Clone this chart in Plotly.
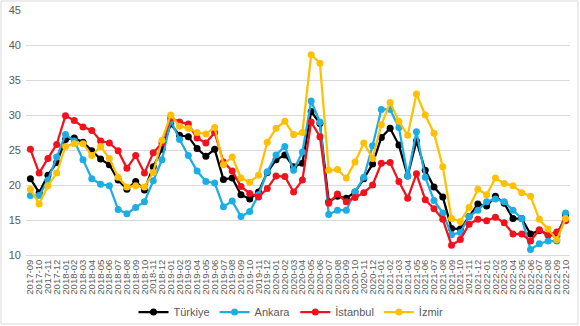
import plotly.graph_objects as go

months = [f"{y}-{m:02d}" for y in range(2017, 2023) for m in range(1, 13)]
months = months[months.index("2017-09"):months.index("2022-10") + 1]

turkiye = [20.9, 18.9, 21.4, 23.2, 26.5, 26.7, 26.1, 24.9, 23.7, 22.9, 20.7, 19.4, 20.5, 19.3, 22.6, 25.1,
           28.7, 27.1, 26.9, 25.2, 24.1, 25.1, 20.8, 21.0, 18.6, 18.0, 19.0, 21.8, 23.6, 24.3, 22.6, 23.1,
           30.5, 28.8, 17.6, 18.4, 18.1, 19.0, 20.9, 23.0, 26.8, 28.1, 25.7, 21.3, 26.3, 22.1, 19.7, 18.3,
           13.8, 13.7, 15.5, 17.3, 17.0, 18.4, 17.4, 15.2, 15.2, 13.0, 13.5, 12.9, 12.7, 15.7]
ankara = [18.5, 18.5, 20.7, 24.0, 27.2, 26.3, 23.6, 20.9, 20.1, 19.9, 16.5, 15.9, 16.8, 17.6, 20.6, 23.6,
          29.2, 26.5, 24.2, 22.0, 20.5, 20.3, 16.9, 17.7, 15.5, 16.2, 18.6, 21.9, 24.3, 25.5, 22.1, 24.7,
          32.0, 29.0, 15.8, 16.4, 16.4, 19.0, 21.1, 25.6, 30.8, 30.8, 28.2, 21.3, 27.6, 21.1, 17.8, 16.0,
          12.9, 13.2, 15.5, 16.4, 17.6, 18.0, 17.6, 16.4, 15.2, 10.8, 11.6, 12.0, 12.0, 16.0]
istanbul = [25.1, 21.7, 23.8, 25.8, 29.9, 29.2, 28.3, 27.8, 26.3, 26.0, 24.9, 22.4, 24.2, 21.7, 24.6, 26.0,
            29.6, 29.0, 28.7, 26.7, 26.0, 27.5, 23.3, 22.0, 19.8, 18.8, 18.3, 19.5, 21.3, 21.2, 19.0, 20.7,
            29.0, 26.9, 17.4, 18.7, 17.6, 18.2, 18.9, 20.0, 23.1, 23.2, 20.5, 18.1, 21.6, 17.9, 16.6, 15.1,
            11.4, 12.2, 14.4, 15.1, 14.9, 15.4, 14.6, 13.0, 13.0, 12.0, 13.6, 12.9, 13.3, 14.9]
izmir = [19.4, 17.3, 19.9, 21.7, 25.5, 25.9, 25.9, 24.2, 25.5, 23.8, 21.1, 19.7, 19.9, 19.7, 21.8, 26.4,
         30.0, 28.4, 28.1, 27.5, 27.3, 28.2, 22.9, 24.0, 21.0, 20.4, 21.4, 26.1, 28.1, 29.1, 27.2, 27.5,
         38.6, 37.4, 22.1, 22.2, 21.0, 23.3, 26.0, 23.8, 28.6, 31.8, 29.1, 27.1, 33.0, 30.0, 27.4, 22.6,
         15.2, 14.8, 16.8, 19.4, 18.6, 21.0, 20.2, 19.9, 18.9, 18.4, 15.1, 13.7, 12.2, 15.2]

series = [("Türkiye", turkiye, "#000000"), ("Ankara", ankara, "#1CADE4"),
          ("İstanbul", istanbul, "#F0131E"), ("İzmir", izmir, "#FFC000")]

fig = go.Figure()
for name, vals, col in series:
    fig.add_trace(go.Scatter(x=months, y=vals, name=name, mode="lines+markers",
                             line=dict(color=col, width=2.25),
                             marker=dict(color=col, size=7, symbol="circle")))

L, R, T, B = 26, 10, 10, 71
PW, PH = 580 - L - R, 326 - T - B

fig.update_layout(
    width=580, height=326,
    margin=dict(l=L, r=R, t=T, b=B, autoexpand=False),
    paper_bgcolor="white", plot_bgcolor="white",
    font=dict(family="Liberation Sans, Arial", color="#595959"),
    showlegend=True,
    legend=dict(orientation="h", x=(291 - L) / PW, xanchor="center",
                y=-(312 - (T + PH)) / PH, yanchor="middle",
                font=dict(size=11, color="#595959"), itemwidth=30, tracegroupgap=0,
                bgcolor="rgba(0,0,0,0)"),
    xaxis=dict(type="category", tickangle=-90, tickfont=dict(size=9.5, color="#595959"),
               tickmode="array", tickvals=months, ticktext=months, automargin=False,
               showgrid=False, showline=True, linecolor="#D9D9D9", ticks="",
               range=[-0.5, len(months) - 0.5]),
    yaxis=dict(range=[10, 45], dtick=5, tick0=10, showgrid=True, gridcolor="#D9D9D9",
               gridwidth=1, zeroline=False, tickfont=dict(size=11, color="#595959"),
               ticks="", ticklabelstandoff=4, automargin=False),
    shapes=[dict(type="rect", xref="paper", yref="paper", x0=-(L - 1) / PW, x1=1 + (R - 2) / PW,
                 y0=-(B - 2) / PH, y1=1 + (T - 1) / PH, line=dict(color="#D9D9D9", width=1))],
)

fig.write_html("out.html")
